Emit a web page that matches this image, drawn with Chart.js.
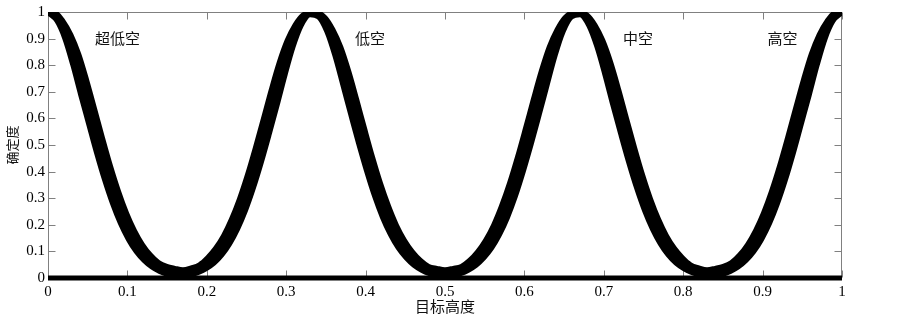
<!DOCTYPE html>
<html><head><meta charset="utf-8">
<script src="https://cdn.jsdelivr.net/npm/chart.js@4.4.0/dist/chart.umd.min.js"></script>
<style>html,body{margin:0;padding:0;background:#fff}canvas{display:block}</style>
</head><body>
<canvas id="c" width="903" height="317"></canvas>
<script>
// target height (x) sample positions
const heights = [0,0.01,0.02,0.03,0.04,0.05,0.06,0.07,0.08,0.09,0.1,0.11,0.12,0.13,0.14,0.15,0.16,0.17,0.18,0.19,0.2,0.21,0.22,0.23,0.24,0.25,0.26,0.27,0.28,0.29,0.3,0.31,0.32,0.33,0.34,0.35,0.36,0.37,0.38,0.39,0.4,0.41,0.42,0.43,0.44,0.45,0.46,0.47,0.48,0.49,0.5,0.51,0.52,0.53,0.54,0.55,0.56,0.57,0.58,0.59,0.6,0.61,0.62,0.63,0.64,0.65,0.66,0.67,0.68,0.69,0.7,0.71,0.72,0.73,0.74,0.75,0.76,0.77,0.78,0.79,0.8,0.81,0.82,0.83,0.84,0.85,0.86,0.87,0.88,0.89,0.9,0.91,0.92,0.93,0.94,0.95,0.96,0.97,0.98,0.99,1];
// upper edge of the scattered certainty cloud
const cloudUpper = [1,0.999,0.968,0.916,0.842,0.744,0.636,0.526,0.421,0.327,0.246,0.180,0.128,0.089,0.061,0.047,0.040,
0.035,0.042,0.053,0.079,0.114,0.161,0.223,0.299,0.389,0.491,0.599,0.709,0.811,0.894,0.953,0.991,1,
1,0.981,0.935,0.869,0.778,0.672,0.562,0.455,0.357,0.272,0.200,0.144,0.101,0.069,0.047,0.040,0.035,
0.040,0.047,0.069,0.101,0.144,0.200,0.272,0.357,0.455,0.562,0.672,0.778,0.869,0.935,0.981,1,
1,0.991,0.953,0.894,0.811,0.709,0.599,0.491,0.389,0.299,0.223,0.161,0.114,0.079,0.053,0.042,0.035,
0.040,0.047,0.061,0.089,0.128,0.180,0.246,0.327,0.421,0.526,0.636,0.744,0.842,0.916,0.968,0.999,1];
// lower edge of the scattered certainty cloud
const cloudLower = [0.992,0.965,0.899,0.800,0.687,0.578,0.469,0.368,0.279,0.204,0.144,0.097,0.063,0.038,0.021,0.010,0.003,
0,0.007,0.017,0.032,0.053,0.084,0.127,0.183,0.253,0.338,0.435,0.541,0.651,0.765,0.869,0.947,0.986,
0.978,0.925,0.836,0.726,0.614,0.504,0.401,0.307,0.227,0.162,0.111,0.073,0.045,0.026,0.013,0.005,0,
0.005,0.013,0.026,0.045,0.073,0.111,0.162,0.227,0.307,0.401,0.504,0.614,0.726,0.836,0.925,0.978,
0.986,0.947,0.869,0.765,0.651,0.541,0.435,0.338,0.253,0.183,0.127,0.084,0.053,0.032,0.017,0.007,0,
0.003,0.010,0.021,0.038,0.063,0.097,0.144,0.204,0.279,0.368,0.469,0.578,0.687,0.800,0.899,0.965,0.992];
// zero-certainty points along the whole height range
const zeroHeights = [0,0.1,0.2,0.3,0.4,0.5,0.6,0.7,0.8,0.9,1];
const zeroValues  = [0,0,0,0,0,0,0,0,0,0,0];
// ticks
const xTickValues = [0,0.1,0.2,0.3,0.4,0.5,0.6,0.7,0.8,0.9,1];
const xTickLabels = ['0','0.1','0.2','0.3','0.4','0.5','0.6','0.7','0.8','0.9','1'];
const yTickValues = [0,0.1,0.2,0.3,0.4,0.5,0.6,0.7,0.8,0.9,1];
const yTickLabels = ['0','0.1','0.2','0.3','0.4','0.5','0.6','0.7','0.8','0.9','1'];
// region labels
const regionLabels = ['超低空','低空','中空','高空'];
const regionLabelX = [0.0875,0.4055,0.743,0.925];
const regionLabelY = [0.90,0.90,0.90,0.90];

const serif = "'Liberation Serif','Times New Roman',serif";
const cjk = "'Noto Sans CJK SC','Noto Sans CJK JP',sans-serif";

const framePlugin = {
  id: 'frame',
  beforeDatasetsDraw(chart) {
    const {ctx, chartArea: a, scales: {x, y}} = chart;
    ctx.save();
    ctx.strokeStyle = '#808080';
    ctx.lineWidth = 1;
    const L = Math.round(a.left) + 0.5, R = Math.round(a.right) - 0.5;
    const T = Math.round(a.top) + 0.5, B = Math.round(a.bottom) - 0.5;
    ctx.strokeRect(L, T, R - L, B - T);
    const len = 7;
    ctx.beginPath();
    x.ticks.forEach(t => {
      const px = Math.round(x.getPixelForValue(t.value)) + 0.5;
      ctx.moveTo(px, B); ctx.lineTo(px, B - len);
      ctx.moveTo(px, T); ctx.lineTo(px, T + len);
    });
    y.ticks.forEach(t => {
      const py = Math.round(y.getPixelForValue(t.value)) + 0.5;
      ctx.moveTo(L, py); ctx.lineTo(L + len, py);
      ctx.moveTo(R, py); ctx.lineTo(R - len, py);
    });
    ctx.stroke();
    ctx.restore();
  }
};

const labelPlugin = {
  id: 'regionLabels',
  afterDatasetsDraw(chart) {
    const {ctx, scales: {x, y}} = chart;
    ctx.save();
    ctx.font = '15px ' + cjk;
    ctx.fillStyle = '#111';
    ctx.textAlign = 'center';
    ctx.textBaseline = 'middle';
    regionLabels.forEach((t, i) => {
      ctx.fillText(t, x.getPixelForValue(regionLabelX[i]), y.getPixelForValue(regionLabelY[i]));
    });
    ctx.restore();
  }
};

const pts = (xs, ys) => xs.map((v, i) => ({x: v, y: ys[i]}));

new Chart(document.getElementById('c'), {
  type: 'line',
  data: {
    datasets: [
      {
        data: pts(heights, cloudUpper),
        borderColor: '#000', borderWidth: 3, pointRadius: 0,
        cubicInterpolationMode: 'monotone', fill: false
      },
      {
        data: pts(heights, cloudLower),
        borderColor: '#000', borderWidth: 3, pointRadius: 0,
        cubicInterpolationMode: 'monotone', fill: '-1', backgroundColor: '#000'
      },
      {
        data: pts(zeroHeights, zeroValues),
        borderColor: '#000', borderWidth: 5, pointRadius: 0, fill: false, clip: false
      }
    ]
  },
  options: {
    responsive: false,
    animation: false,
    devicePixelRatio: 1,
    layout: {padding: {left: 0, right: 61, top: 7, bottom: 0}},
    plugins: {legend: {display: false}, tooltip: {enabled: false}},
    scales: {
      x: {
        type: 'linear', min: 0, max: 1,
        afterBuildTicks: s => { s.ticks = xTickValues.map(v => ({value: v})); },
        afterFit: s => { s.height = 39; },
        grid: {display: false, drawTicks: false},
        border: {display: false},
        ticks: {
          autoSkip: false, maxRotation: 0, padding: 5, color: '#000',
          font: {family: serif, size: 15},
          callback: (v, i) => xTickLabels[i]
        },
        title: {display: true, text: '目标高度', color: '#111', font: {family: cjk, size: 15}, padding: {top: 0, bottom: 2}}
      },
      y: {
        type: 'linear', min: 0, max: 1,
        afterBuildTicks: s => { s.ticks = yTickValues.map(v => ({value: v})); },
        afterFit: s => { s.width = 48; },
        grid: {display: false, drawTicks: false},
        border: {display: false},
        ticks: {
          autoSkip: false, padding: 3, color: '#000',
          font: {family: serif, size: 15},
          callback: (v, i) => yTickLabels[i]
        },
        title: {display: true, text: '确定度', color: '#111', font: {family: cjk, size: 13}, padding: {top: 4, bottom: 0}}
      }
    }
  },
  plugins: [framePlugin, labelPlugin]
});
</script>
</body></html>
